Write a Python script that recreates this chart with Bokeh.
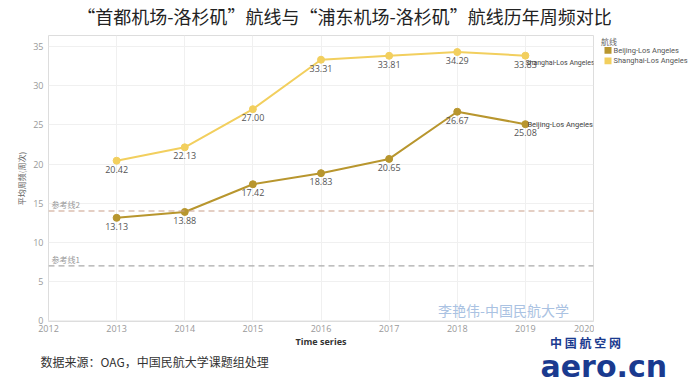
from bokeh.plotting import figure
from bokeh.layouts import column, row
from bokeh.models import (Label, Span, BoxAnnotation, ColumnDataSource,
                          FixedTicker, Range1d)
from bokeh.core.properties import value
from bokeh.embed import file_html
from bokeh.resources import INLINE

years = [2013, 2014, 2015, 2016, 2017, 2018, 2019]
beijing = [13.13, 13.88, 17.42, 18.83, 20.65, 26.67, 25.08]
shanghai = [20.42, 22.13, 27.00, 33.31, 33.81, 34.29, 33.83]
x_ticks = [2012, 2013, 2014, 2015, 2016, 2017, 2018, 2019, 2020]
y_ticks = [0, 5, 10, 15, 20, 25, 30, 35]
ref_lines = [7, 14]
ref_names = ["参考线1", "参考线2"]
series_names = ["Beijing-Los Angeles", "Shanghai-Los Angeles"]

title_text = "“首都机场-洛杉矶”航线与“浦东机场-洛杉矶”航线历年周频对比"
source_text = "数据来源：OAG，中国民航大学课题组处理"
watermark = "李艳伟-中国民航大学"

C_BJ = "#b8962e"
C_SH = "#f2cf5e"
SANS = "Open Sans"
CJK = "Noto Sans CJK SC"
W = 693
MAIN_W, MAIN_H = 594, 299
HDR_H = 35
FT_H = 379 - HDR_H - MAIN_H


def blank(width, height):
    fig = figure(width=width, height=height, output_backend="svg",
                 toolbar_location=None, x_range=Range1d(0, width),
                 y_range=Range1d(height, 0), x_axis_location=None,
                 y_axis_location=None, min_border=0)
    fig.outline_line_color = None
    fig.xgrid.visible = False
    fig.ygrid.visible = False
    return fig


# header with title
hdr = blank(W, HDR_H)
hdr.add_layout(Label(x=344, y=15, text=title_text, text_align="center",
                     text_baseline="middle", text_font=CJK,
                     text_font_size="18px", text_color="#222222"))

# main chart
p = figure(width=MAIN_W, height=MAIN_H, output_backend="svg",
           toolbar_location=None,
           x_range=Range1d(2012, 2020), y_range=Range1d(-0.1, 36.4),
           min_border_left=48, min_border_right=1, min_border_top=0,
           min_border_bottom=13)
p.outline_line_color = "#dddddd"

p.xgrid.ticker = FixedTicker(ticks=x_ticks)
p.ygrid.ticker = FixedTicker(ticks=y_ticks)
p.xgrid.grid_line_color = "#f0f0f0"
p.ygrid.grid_line_color = "#f0f0f0"

p.xaxis.ticker = FixedTicker(ticks=x_ticks)
p.yaxis.ticker = FixedTicker(ticks=y_ticks)
for ax in (p.xaxis[0], p.yaxis[0]):
    ax.axis_line_color = None
    ax.major_tick_line_color = None
    ax.minor_tick_line_color = None
    ax.major_tick_out = 0
    ax.major_tick_in = 0
    ax.minor_tick_out = 0
    ax.major_label_text_color = "#999999"
    ax.major_label_text_font_size = "9px"
    ax.major_label_text_font = SANS
p.xaxis.major_label_standoff = 3
p.yaxis.major_label_standoff = 5
p.yaxis.axis_label = "平均周频(周次)"
p.yaxis.axis_label_text_font = CJK
p.yaxis.axis_label_text_font_size = "8px"
p.yaxis.axis_label_text_font_style = "normal"
p.yaxis.axis_label_text_color = "#666666"
p.yaxis.axis_label_standoff = 3

ref_colors = ["#aaaaaa", "#c9a08a"]
for v, name, c in zip(ref_lines, ref_names, ref_colors):
    p.add_layout(Span(location=v, dimension="width", line_color=c,
                      line_dash="6 4", line_width=1.2))
    p.add_layout(Label(x=2012, y=v, text=name, x_offset=3, y_offset=1,
                       text_font=CJK, text_font_size="8px", text_color="#999999",
                       text_baseline="bottom"))

src = ColumnDataSource(dict(x=years, bj=beijing, sh=shanghai,
                            bjl=[f"{v:.2f}" for v in beijing],
                            shl=[f"{v:.2f}" for v in shanghai]))

p.line("x", "sh", source=src, line_color=C_SH, line_width=2)
p.scatter("x", "sh", source=src, size=7, fill_color=C_SH, line_color=C_SH)
p.line("x", "bj", source=src, line_color=C_BJ, line_width=2)
p.scatter("x", "bj", source=src, size=7, fill_color=C_BJ, line_color=C_BJ)

for col, lab in (("sh", "shl"), ("bj", "bjl")):
    p.text("x", col, text=lab, source=src, text_align="center",
           text_baseline="top", y_offset=5, text_font=value(SANS),
           text_font_size="9px", text_color="#555555")

p.add_layout(Label(x=years[-1], y=shanghai[-1], text=series_names[1],
                   x_offset=0, y_offset=-7, text_baseline="middle",
                   text_font="Roboto", text_font_size="7px", text_color="#444444"))
p.add_layout(Label(x=years[-1], y=beijing[-1], text=series_names[0],
                   x_offset=2, y_offset=0, text_baseline="middle",
                   text_font="Roboto", text_font_size="7.5px", text_color="#444444"))

p.add_layout(Label(x=455, y=12, x_units="screen", y_units="screen",
                   text=watermark, text_align="center", text_baseline="middle",
                   text_font=CJK, text_font_size="14px", text_color="#aac2e2"))

# legend panel
lg = blank(W - MAIN_W, MAIN_H)
lg.add_layout(Label(x=6.5, y=6, text="航线", text_baseline="middle",
                    text_font=CJK, text_font_size="8px", text_color="#666666"))
for i, (name, c) in enumerate(zip(series_names, [C_BJ, C_SH])):
    top = 12 + 11 * i
    lg.add_layout(BoxAnnotation(left=10, right=17, top=top, bottom=top + 7,
                                fill_color=c, fill_alpha=1, line_color=None))
    lg.add_layout(Label(x=19, y=top + 3.5, text=name, text_baseline="middle",
                        text_font="Roboto", text_font_size="7.5px",
                        text_color="#555555"))

# footer: axis title, source note, logo
ft = blank(W, FT_H)
ft.add_layout(Label(x=320.5, y=7, text="Time series", text_align="center",
                    text_baseline="middle", text_font=SANS, text_font_size="9px",
                    text_font_style="bold", text_color="#333333"))
ft.add_layout(Label(x=40, y=27, text=source_text, text_align="left",
                    text_baseline="middle", text_font=CJK, text_font_size="12px",
                    text_color="#333333"))
ft.add_layout(Label(x=585, y=8, text="中 国 航 空 网", text_align="center",
                    text_baseline="middle", text_font=CJK, text_font_size="12px",
                    text_font_style="bold", text_color="#1a3a8f"))
ft.add_layout(Label(x=540, y=32, text="aero.cn", text_align="left",
                    text_baseline="alphabetic", text_font="DejaVu Sans",
                    text_font_size="30px", text_font_style="bold",
                    text_color="#1a3a8f"))

layout = column(hdr, row(p, lg, spacing=0), ft, spacing=0)
open("out.html", "w").write(file_html(layout, INLINE))
